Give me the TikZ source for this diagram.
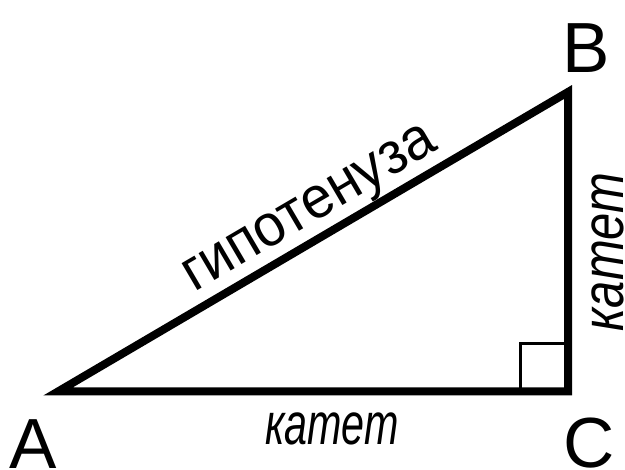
\documentclass[tikz,border=0pt]{standalone}
\usepackage{fontspec}
\setmainfont{Liberation Sans}
\newfontfamily\legAfont{Liberation Sans}[FakeStretch=0.70]
\newfontfamily\legBfont{Liberation Sans}[FakeStretch=0.83]
\newfontfamily\hypfont{Liberation Sans}[FakeStretch=0.95]
\usetikzlibrary{calc}
\tikzset{
  side/.style={line width=8pt, line join=miter},
  rightmark/.style={line width=3pt},
  vertexlbl/.style={inner sep=0pt, anchor=base, font=\fontsize{71}{71}\selectfont},
  leglbl/.style={inner sep=0pt, anchor=base},
  hyplbl/.style={inner sep=0pt, anchor=base, font=\hypfont\fontsize{59}{59}\selectfont},
}
\begin{document}
\begin{tikzpicture}[x=1pt,y=-1pt]
\useasboundingbox (0,0) rectangle (625,470);
\coordinate (A) at (58,391.5);
\coordinate (B) at (568,92);
\coordinate (C) at (568,391.5);
\coordinate (Q) at (520,344);
\draw[rightmark] (Q) rectangle (C);
\draw[side] (A) -- (B) -- (C) -- cycle;
\node[vertexlbl] (lA) at (33.5,469) {A};
\node[vertexlbl] (lB) at (586,73) {B};
\node[vertexlbl] (lC) at (589,468) {C};
\node[leglbl, font=\legAfont\itshape\fontsize{59}{59}\selectfont] (lAC) at (332,445) {катет};
\node[leglbl, font=\legBfont\itshape\fontsize{59}{59}\selectfont, rotate=90] (lBC) at (623,252) {катет};
\coordinate (H) at ($(A)!0.523!(B)$);
\coordinate (Hs) at ($(H)!16pt!90:(B)$);
\node[hyplbl, rotate=30.42] (lAB) at (Hs) {гипотенуза};
\end{tikzpicture}
\end{document}
